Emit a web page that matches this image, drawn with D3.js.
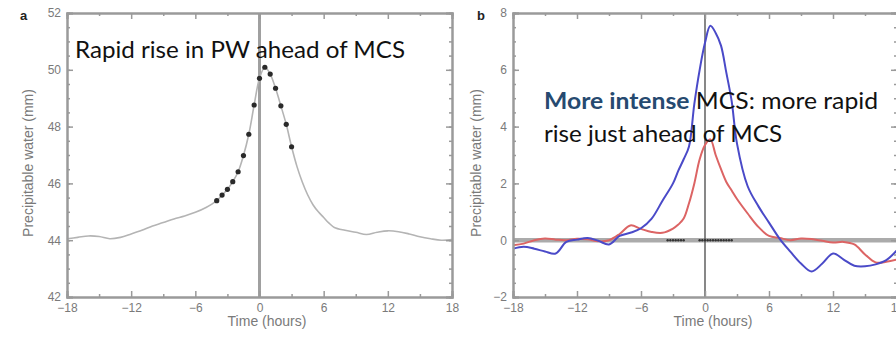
<!DOCTYPE html>
<html>
<head>
<meta charset="utf-8">
<script src="https://cdn.jsdelivr.net/npm/d3@7"></script>
<style>
  body { margin: 0; background: #fff; }
  svg { display: block; }
</style>
</head>
<body>
<svg id="chart" width="896" height="338"></svg>
<script>
// panel a: composite precipitable water around MCS passage
var timeA = [-18,-17,-16,-15,-14,-13,-12,-11,-10,-9,-8,-7,-6,-5,-4,-3.5,-3,-2.5,-2,-1.5,-1,-0.5,0,0.5,1,1.5,2,2.5,3,3.5,4,4.5,5,5.5,6,6.5,7,8,9,10,11,12,13,14,15,16,17,18];
var pwA = [44.05,44.1,44.15,44.13,44.05,44.1,44.22,44.35,44.5,44.62,44.75,44.85,44.98,45.15,45.39,45.59,45.79,46.06,46.41,46.98,47.73,48.76,49.7,50.09,49.85,49.35,48.73,48.08,47.29,46.6,46.05,45.6,45.25,45.0,44.8,44.6,44.45,44.35,44.28,44.2,44.28,44.33,44.3,44.22,44.12,44.05,44.0,44.02];
var dotTimesA = [-4,-3.5,-3,-2.5,-2,-1.5,-1,-0.5,0,0.5,1,1.5,2,2.5,3];

// panel b: anomaly for more intense (blue) and less intense (red) MCS
var timeB = [-18,-17,-16,-15,-14,-13,-12,-11,-10,-9,-8,-7,-6,-5,-4,-3,-2.5,-2,-1.5,-1,-0.5,0,0.5,1,1.5,2,2.5,3,4,5,6,7,8,9,10,11,12,13,14,15,16,17,18];
var pwStrong = [-0.30,-0.23,-0.30,-0.40,-0.47,-0.06,0.02,0.08,-0.02,-0.15,0.15,0.26,0.42,0.76,1.38,2.0,2.45,2.85,3.3,4.8,6.0,6.95,7.55,7.3,6.85,5.9,4.9,3.4,1.9,1.2,0.62,0.05,-0.4,-0.82,-1.1,-0.82,-0.47,-0.68,-0.9,-0.92,-0.85,-0.70,-0.35];
var pwWeak = [-0.18,-0.12,0.0,0.06,0.02,0.0,0.05,0.03,-0.04,0.0,0.22,0.52,0.40,0.29,0.26,0.41,0.55,0.76,1.3,2.0,2.85,3.35,3.55,3.0,2.5,2.05,1.75,1.45,0.94,0.47,0.15,0.08,0.0,0.06,0.04,-0.02,-0.08,-0.06,-0.15,-0.5,-0.78,-0.76,-0.68];
var sigTimesB = [-3.5,-3.25,-3,-2.75,-2.5,-2.25,-2,-0.5,-0.25,0,0.25,0.5,0.75,1,1.25,1.5,1.75,2,2.25,2.5];

var timeTicks = [-18,-12,-6,0,6,12,18];
var pwTicksA = [42,44,46,48,50,52];
var pwTicksB = [-2,0,2,4,6,8];

var svg = d3.select('#chart');
var fmt = d3.format('d');
var axisGray = '#9a9a9a';
var textGray = '#7a7a7a';

function drawFrame(x, y, yTicks, yMinor) {
  var g = svg.append('g');
  var x0 = x.range()[0], x1 = x.range()[1];
  var y0 = y.range()[0], y1 = y.range()[1];
  var tMinor = d3.range(-15, 18, 6);

  g.append('g').attr('transform', 'translate(0,' + y0 + ')')
    .call(d3.axisBottom(x).tickValues(timeTicks).tickSize(-6).tickPadding(6).tickFormat(fmt));
  g.append('g').attr('transform', 'translate(0,' + y0 + ')')
    .call(d3.axisBottom(x).tickValues(tMinor).tickSize(-3).tickFormat(''));
  g.append('g').attr('transform', 'translate(0,' + y1 + ')')
    .call(d3.axisTop(x).tickValues(timeTicks).tickSize(-6).tickFormat(''));
  g.append('g').attr('transform', 'translate(0,' + y1 + ')')
    .call(d3.axisTop(x).tickValues(tMinor).tickSize(-3).tickFormat(''));
  g.append('g').attr('transform', 'translate(' + x0 + ',0)')
    .call(d3.axisLeft(y).tickValues(yTicks).tickSize(-6).tickPadding(6).tickFormat(fmt));
  g.append('g').attr('transform', 'translate(' + x0 + ',0)')
    .call(d3.axisLeft(y).tickValues(yMinor).tickSize(-3).tickFormat(''));
  g.append('g').attr('transform', 'translate(' + x1 + ',0)')
    .call(d3.axisRight(y).tickValues(yTicks).tickSize(-6).tickFormat(''));
  g.append('g').attr('transform', 'translate(' + x1 + ',0)')
    .call(d3.axisRight(y).tickValues(yMinor).tickSize(-3).tickFormat(''));

  g.selectAll('.domain').attr('stroke', axisGray).attr('stroke-width', 2);
  g.selectAll('.tick line').attr('stroke', axisGray).attr('stroke-width', 1.5);
  g.selectAll('.tick text')
    .attr('fill', textGray)
    .style('font-family', 'Liberation Sans, Arial, sans-serif')
    .style('font-size', '12px');
  return g;
}

function drawTitles(cx, cy, yTitleX) {
  svg.append('text')
    .attr('x', cx).attr('y', 326)
    .attr('text-anchor', 'middle')
    .attr('fill', textGray)
    .style('font-family', 'Liberation Sans, Arial, sans-serif')
    .style('font-size', '14px')
    .text('Time (hours)');
  svg.append('text')
    .attr('transform', 'translate(' + yTitleX + ',' + cy + ') rotate(-90)')
    .attr('text-anchor', 'middle')
    .attr('fill', textGray)
    .style('font-family', 'Liberation Sans, Arial, sans-serif')
    .style('font-size', '14px')
    .text('Precipitable water (mm)');
}

// ---- panel a ----
var xA = d3.scaleLinear().domain([-18, 18]).range([67, 452]);
var yA = d3.scaleLinear().domain([42, 52]).range([297, 13]);

svg.append('line')
  .attr('x1', xA(0)).attr('x2', xA(0))
  .attr('y1', yA(42)).attr('y2', yA(52))
  .attr('stroke', '#a0a0a0').attr('stroke-width', 3);

var lineA = d3.line()
  .x(function(d, i) { return xA(timeA[i]); })
  .y(function(d) { return yA(d); })
  .curve(d3.curveCatmullRom);

svg.append('path')
  .datum(pwA)
  .attr('d', lineA)
  .attr('fill', 'none')
  .attr('stroke', '#b4b4b4')
  .attr('stroke-width', 1.6);

svg.append('g').selectAll('circle')
  .data(dotTimesA)
  .enter()
  .append('circle')
  .attr('cx', function(t) { return xA(t); })
  .attr('cy', function(t) { return yA(pwA[timeA.indexOf(t)]); })
  .attr('r', 2.6)
  .attr('fill', '#2a2a2a');

drawFrame(xA, yA, pwTicksA, d3.range(42.5, 52, 0.5));
drawTitles(267, 163, 33);

// ---- panel b ----
var xB = d3.scaleLinear().domain([-18, 18]).range([513, 897]);
var yB = d3.scaleLinear().domain([-2, 8]).range([297, 13]);

svg.append('line')
  .attr('x1', xB(-18)).attr('x2', xB(18))
  .attr('y1', yB(0)).attr('y2', yB(0))
  .attr('stroke', '#ababab').attr('stroke-width', 4.5);

svg.append('line')
  .attr('x1', xB(0)).attr('x2', xB(0))
  .attr('y1', yB(-2)).attr('y2', yB(8))
  .attr('stroke', '#555').attr('stroke-width', 1.4);

var lineB = d3.line()
  .x(function(d, i) { return xB(timeB[i]); })
  .y(function(d) { return yB(d); })
  .curve(d3.curveCatmullRom);

svg.append('path')
  .datum(pwWeak)
  .attr('d', lineB)
  .attr('fill', 'none')
  .attr('stroke', '#dc6464')
  .attr('stroke-width', 2);

svg.append('path')
  .datum(pwStrong)
  .attr('d', lineB)
  .attr('fill', 'none')
  .attr('stroke', '#4a4ac8')
  .attr('stroke-width', 2);

svg.append('g').selectAll('circle')
  .data(sigTimesB)
  .enter()
  .append('circle')
  .attr('cx', function(t) { return xB(t); })
  .attr('cy', yB(0))
  .attr('r', 1.2)
  .attr('fill', '#333');

drawFrame(xB, yB, pwTicksB, d3.range(-1.5, 8, 0.5));
drawTitles(713, 163, 481);

// panel letters
svg.append('text').attr('x', 20).attr('y', 20).text('a')
  .style('font-family', 'Liberation Sans, Arial, sans-serif')
  .style('font-size', '13px').style('font-weight', 'bold').attr('fill', '#222');
svg.append('text').attr('x', 477).attr('y', 20).text('b')
  .style('font-family', 'Liberation Sans, Arial, sans-serif')
  .style('font-size', '13px').style('font-weight', 'bold').attr('fill', '#222');

// annotations
var noteFont = 'Lato, Open Sans, sans-serif';
svg.append('text')
  .attr('x', 75).attr('y', 58)
  .attr('textLength', 330).attr('lengthAdjust', 'spacingAndGlyphs')
  .style('font-family', noteFont).style('font-size', '23px')
  .attr('fill', '#111')
  .text('Rapid rise in PW ahead of MCS');

var note1 = svg.append('text')
  .attr('x', 544).attr('y', 109)
  .attr('textLength', 334).attr('lengthAdjust', 'spacingAndGlyphs')
  .style('font-family', noteFont).style('font-size', '23px')
  .attr('fill', '#111');
note1.append('tspan').text('More intense').attr('fill', '#264a70').style('font-weight', 'bold');
note1.append('tspan').text(' MCS: more rapid');

svg.append('text')
  .attr('x', 544).attr('y', 142)
  .attr('textLength', 238).attr('lengthAdjust', 'spacingAndGlyphs')
  .style('font-family', noteFont).style('font-size', '23px')
  .attr('fill', '#111')
  .text('rise just ahead of MCS');
</script>
</body>
</html>
